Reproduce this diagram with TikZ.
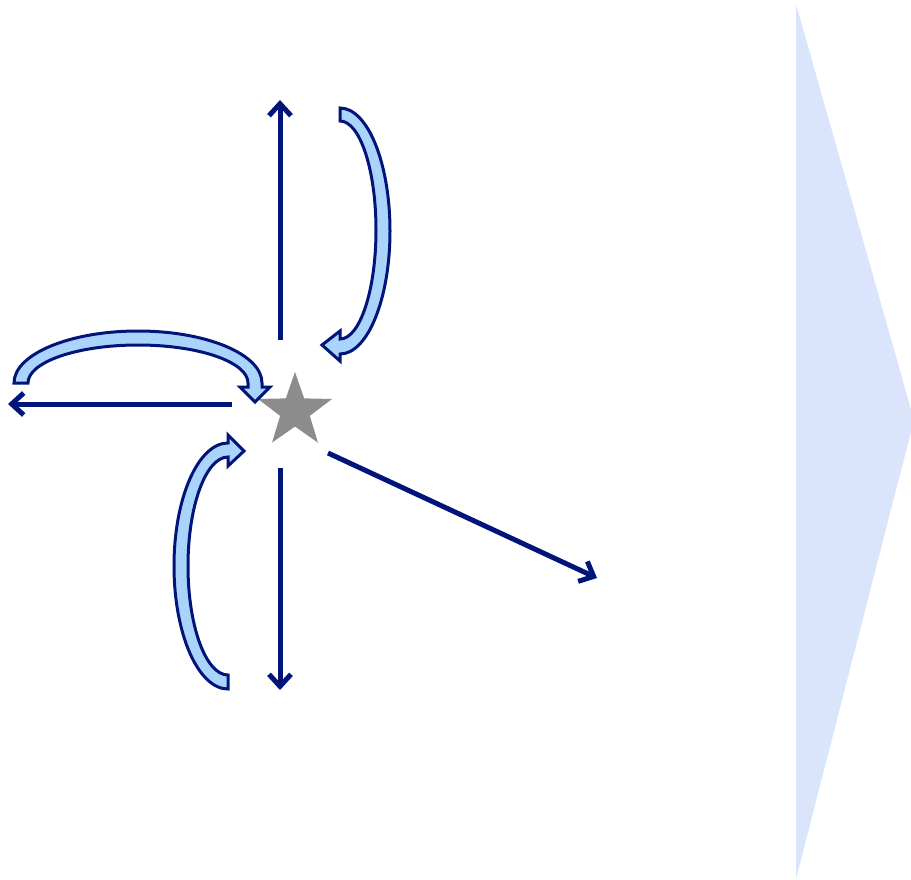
\documentclass[tikz,border=0pt]{standalone}
\usetikzlibrary{arrows.meta,shapes.geometric}
\definecolor{navyblue}{RGB}{0,20,122}
\definecolor{paleblue}{RGB}{170,212,252}
\definecolor{panelblue}{RGB}{218,228,251}

\begin{document}
\begin{tikzpicture}[x=1pt, y=-1pt, >={Straight Barb[length=12pt,width=22pt,line width=5pt]},
    flow/.style={->, line width=5pt, draw=navyblue},
    curvearrow/.style={draw=navyblue, line width=3pt, fill=paleblue, line join=miter}]
    \useasboundingbox (0,0) rectangle (911,879);
    \clip (0,0) rectangle (911,879);

    % panel on the right
    \fill[panelblue] (796,4) -- (914,420) -- (796,879) -- cycle;

    \node[star, star points=5, star point ratio=2.5, fill=black!45,
        minimum size=78pt, inner sep=0pt] (star) at (295,411) {};

    \coordinate (n0) at (280,340);  \coordinate (n1) at (280,100);
    \coordinate (w0) at (232,404);  \coordinate (w1) at (8,404);
    \coordinate (s0) at (280,468);  \coordinate (s1) at (280,690);
    \coordinate (d0) at (328,453);  \coordinate (d1) at (597,578);
    \foreach \a/\b in {n0/n1,w0/w1,s0/s1,d0/d1}
        \draw[flow] (\a) -- (\b);

    % curved arrows round the star
    \draw[curvearrow] (340,108) arc[start angle=-90, end angle=90, x radius=50, y radius=123]
        -- (340,361) -- (322,345) -- (340,331) -- (340,339)
        arc[start angle=90, end angle=-90, x radius=36, y radius=109] -- cycle;
    \draw[curvearrow] (14,383) arc[start angle=180, end angle=360, x radius=124, y radius=52]
        -- (262,387) -- (270,387) -- (255,402) -- (240,387) -- (248,387) -- (248,383)
        arc[start angle=360, end angle=180, x radius=110, y radius=38] -- cycle;
    \draw[curvearrow] (228,689) arc[start angle=90, end angle=270, x radius=54, y radius=123]
        -- (228,435) -- (244,451) -- (228,466) -- (228,457)
        arc[start angle=270, end angle=90, x radius=40, y radius=109] -- cycle;
\end{tikzpicture}
\end{document}
